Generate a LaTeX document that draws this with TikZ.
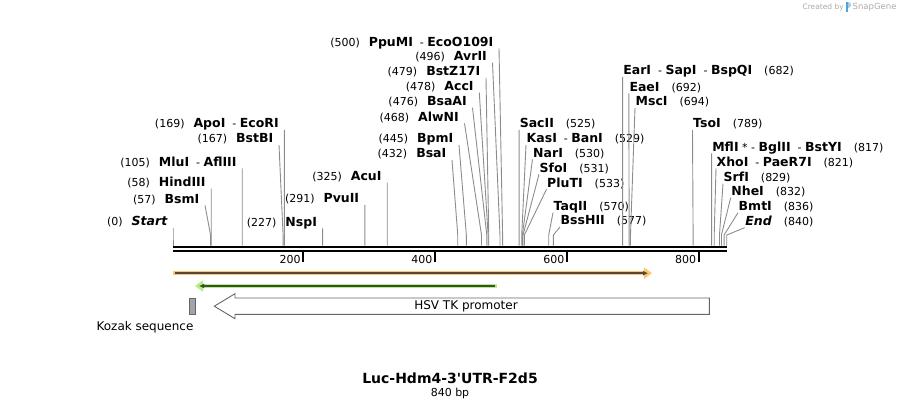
\documentclass[tikz,border=0pt]{standalone}
\usepackage{fontspec}
\setmainfont{DejaVu Sans}
\usetikzlibrary{arrows.meta}
\definecolor{cutgray}{HTML}{8C8C8C}
\definecolor{orangehl}{HTML}{F9C675}
\definecolor{orangecore}{HTML}{5B4631}
\definecolor{greenhl}{HTML}{AEF081}
\definecolor{greencore}{HTML}{3F4A38}
\definecolor{featedge}{HTML}{666666}
\definecolor{kozakgray}{HTML}{A0A4AC}
\definecolor{wmgray}{HTML}{AAAAAA}
\definecolor{snapblue}{HTML}{4FA3E0}
\newcommand{\enz}[1]{{\fontsize{12.5}{14}\selectfont\bfseries #1}}
\newcommand{\enzsep}{~~-\ }

\begin{document}
\begin{tikzpicture}[x=1pt, y=-1pt,
	cutline/.style={cutgray, line width=0.9pt},
	sitelbl/.style={inner sep=0pt, font=\fontsize{11}{13}\selectfont},
	featlbl/.style={inner sep=0pt, font=\fontsize{12}{14}\selectfont}]
	\useasboundingbox (0,0) rectangle (900,409);
	\def\xo{173}
	\def\bpx{0.6592}
	
	% backbone
	\draw[line width=2.5pt] (173,246.8) -- (726.7,246.8);
	\draw[line width=2.5pt] (173,250.8) -- (726.7,250.8);
	
	% ruler
	\foreach \t in {200, 400, 600, 800} {
		\coordinate (tick\t) at ({\xo+\bpx*\t-1.5},252);
		\draw[line width=1.8pt] (tick\t) -- ++(0,10);
		\node[sitelbl, anchor=base east] (tl\t) at ({\xo+\bpx*\t-4},263) {\t};
	}
	
	% cut sites, labels on the left
	\foreach \n/\lbl/\px/\py in {
		0/{\enz{\itshape Start}}/173/227.7,
		57/{\enz{BsmI}}/205/205.3,
		58/{\enz{HindIII}}/211.2/188.7,
		105/{\enz{MluI}\enzsep\enz{AflIII}}/242.2/168.3,
		167/{\enz{BstBI}}/279/145,
		169/{\enz{ApoI}\enzsep\enz{EcoRI}}/284.4/130,
		227/{\enz{NspI}}/322.6/228.3,
		291/{\enz{PvuII}}/364.8/205,
		325/{\enz{AcuI}}/387.2/182.7,
		432/{\enz{BsaI}}/452/160,
		445/{\enz{BpmI}}/459/145,
		468/{\enz{AlwNI}}/464.5/123.3,
		476/{\enz{BsaAI}}/472.5/107.7,
		478/{\enz{AccI}}/479.3/92.7,
		479/{\enz{BstZ17I}}/486/78,
		496/{\enz{AvrII}}/492.5/62.7,
		500/{\enz{PpuMI}\enzsep\enz{EcoO109I}}/499/48.3} {
		\coordinate (t\n) at (\px,\py);
		\coordinate (b\n) at ({\xo+\bpx*\n},235);
		\coordinate (s\n) at ({\xo+\bpx*\n},245.5);
		\node[sitelbl, anchor=base east] (c\n) at (\px-5.5,\py-2) {(\n)\hspace{9pt}\lbl};
		\draw[cutline] (t\n) -- (b\n) -- (s\n);
	}
	
	% cut sites, labels on the right
	\foreach \n/\lbl/\px/\py in {
		525/{\enz{SacII}}/519.1/130,
		529/{\enz{KasI}\enzsep\enz{BanI}}/526/145,
		530/{\enz{NarI}}/532.5/159.3,
		531/{\enz{SfoI}}/539/174.3,
		533/{\enz{PluTI}}/546.5/189.3,
		570/{\enz{TaqII}}/553/212.7,
		577/{\enz{BssHII}}/560/227,
		682/{\enz{EarI}\enzsep\enz{SapI}\enzsep\enz{BspQI}}/622.6/77,
		692/{\enz{EaeI}}/628.8/93.3,
		694/{\enz{MscI}}/635/107.7,
		789/{\enz{TsoI}}/692.5/130,
		817/{\enz{MflI}\ *\ -\ \enz{BglII}\enzsep\enz{BstYI}}/711.6/153.3,
		821/{\enz{XhoI}\enzsep\enz{PaeR7I}}/716/168.3,
		829/{\enz{SrfI}}/723/183.7,
		832/{\enz{NheI}}/730.7/197.7,
		836/{\enz{BmtI}}/738/212.7,
		840/{\enz{\itshape End}}/744.7/227.7} {
		\coordinate (t\n) at (\px,\py);
		\coordinate (b\n) at ({\xo+\bpx*\n},235);
		\coordinate (s\n) at ({\xo+\bpx*\n},245.5);
		\node[sitelbl, anchor=base west] (c\n) at (\px+0.5,\py-2) {\lbl\hspace{12pt}(\n)};
		\draw[cutline] (t\n) -- (b\n) -- (s\n);
	}
	
	% features
	\draw[orangehl, line width=4.5pt, -{Triangle[length=8pt,width=11pt]}] (173,273.2) -- (652,273.2);
	\draw[orangecore, line width=1.5pt, -{Latex[length=5pt,width=5pt]}] (175,273.2) -- (648,273.2);
	\draw[greenhl, line width=4.5pt, -{Triangle[length=8pt,width=11pt]}] (496.5,286) -- (195,286);
	\draw[greencore, line width=1.5pt, -{Latex[length=5pt,width=5pt]}] (494.5,286) -- (199,286);
	
	\node[draw=featedge, fill=kozakgray, line width=0.9pt, minimum width=6pt, minimum height=16pt, inner sep=0pt] (kozak) at (192.3,306.2) {};
	\node[featlbl] (kozaklbl) at (145,327) {Kozak sequence};
	
	\draw[featedge, fill=white, line width=0.9pt] (709.3,298) -- (235,298) -- (235,293.7) -- (214.3,306.2)
		-- (235,318.7) -- (235,314.3) -- (709.3,314.3) -- cycle;
	\node[featlbl] (hsv) at (466,306.2) {HSV TK promoter};
	
	% title
	\node[inner sep=0pt, font=\fontsize{14}{16}\selectfont\bfseries] (title) at (450,378.5) {Luc-Hdm4-3\textquotesingle UTR-F2d5};
	\node[sitelbl] (size) at (450,393.3) {840 bp};
	
	% watermark
	\node[inner sep=0pt, anchor=east, text=wmgray, font=\fontsize{7.5}{9}\selectfont] (wm) at (844,7) {Created by};
	\fill[snapblue] (845.5,2.5) rectangle (848,12.5);
	\fill[snapblue!55] (848,2.5) .. controls (852,2.5) and (852,8) .. (848,8) -- cycle;
	\node[inner sep=0pt, anchor=west, text=wmgray, font=\fontsize{8.5}{10}\selectfont] (wmsg) at (852.5,7) {SnapGene};
\end{tikzpicture}
\end{document}
